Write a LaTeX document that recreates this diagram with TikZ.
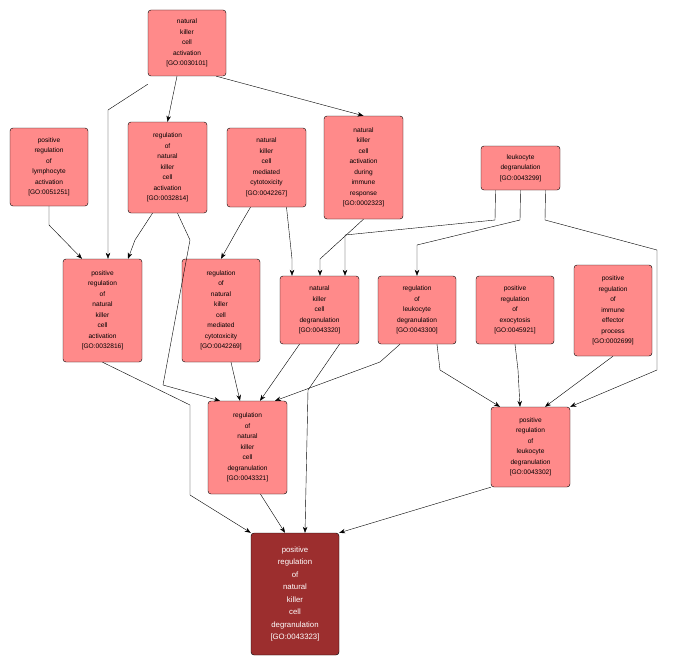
\documentclass[tikz,border=0pt]{standalone}
\usepackage{fontspec}
\setmainfont{Liberation Sans}
\usetikzlibrary{arrows.meta}
\begin{document}
\begin{tikzpicture}[x=1pt,y=-1pt,
 go/.style={draw=black,fill={rgb,255:red,255;green,138;blue,138},rounded corners=3pt,align=center,font=\fontsize{6.6}{10.5}\selectfont,inner sep=0pt},
 tg/.style={go,fill={rgb,255:red,156;green,46;blue,46},text=white,font=\fontsize{7.8}{12.5}\selectfont},
 e/.style={-{Stealth[length=6pt,width=4.5pt]},thin}]
\useasboundingbox (0,0) rectangle (684,666);
\newcommand{\gn}[7]{\node[#7,minimum width=#3-#1,minimum height=#4-#2] (#5) at ({(#1+#3)/2},{(#2+#4)/2}) {#6};}
\gn{148}{10}{226}{76}{a}{natural\\killer\\cell\\activation\\{[GO:0030101]}}{go}
\gn{10}{128}{88}{206}{b}{positive\\regulation\\of\\lymphocyte\\activation\\{[GO:0051251]}}{go}
\gn{128}{122}{207}{213}{c}{regulation\\of\\natural\\killer\\cell\\activation\\{[GO:0032814]}}{go}
\gn{227}{128}{306}{207}{d}{natural\\killer\\cell\\mediated\\cytotoxicity\\{[GO:0042267]}}{go}
\gn{324}{116}{403}{219}{f}{natural\\killer\\cell\\activation\\during\\immune\\response\\{[GO:0002323]}}{go}
\gn{481}{146}{560}{190}{g}{leukocyte\\degranulation\\{[GO:0043299]}}{go}
\gn{63}{259}{142}{362}{h}{positive\\regulation\\of\\natural\\killer\\cell\\activation\\{[GO:0032816]}}{go}
\gn{182}{259}{260}{362}{i}{regulation\\of\\natural\\killer\\cell\\mediated\\cytotoxicity\\{[GO:0042269]}}{go}
\gn{280}{276}{359}{344}{j}{natural\\killer\\cell\\degranulation\\{[GO:0043320]}}{go}
\gn{378}{276}{456}{344}{k}{regulation\\of\\leukocyte\\degranulation\\{[GO:0043300]}}{go}
\gn{476}{276}{554}{344}{l}{positive\\regulation\\of\\exocytosis\\{[GO:0045921]}}{go}
\gn{574}{265}{652}{356}{m}{positive\\regulation\\of\\immune\\effector\\process\\{[GO:0002699]}}{go}
\gn{208}{401}{287}{494}{n}{regulation\\of\\natural\\killer\\cell\\degranulation\\{[GO:0043321]}}{go}
\gn{491}{407}{570}{487}{o}{positive\\regulation\\of\\leukocyte\\degranulation\\{[GO:0043302]}}{go}
\gn{251}{533}{339}{655}{p}{positive\\regulation\\of\\natural\\killer\\cell\\degranulation\\{[GO:0043323]}}{tg}
\draw[e] (a.south west)++(0,8) -- (108,110) -- (h.north-|108,0);
\draw[e] (a.south) ++(-10,0) -- (c.north);
\draw[e] (a.south east) ++(-10,0) -- (f.north);
\draw[e] (b.south) -- (49,225) -- (h.north-|82,0);
\draw[e] (c.south) ++(-15,0) -- (135,240) -- (h.north-|128,0);
\draw[e] (c.south) ++(10,0) -- (190,240) -- (163,385) -- (n.north-|220,0);
\draw[e] (d.south) ++(-16,0) -- (240,225) -- (i.north);
\draw[e] (d.south) ++(20,0) -- (292,259) -- (j.north-|292,0);
\draw[e] (f.south) -- (320,259) -- (j.north-|320,0);
\draw[e] (g.south) ++(-25,0) -- (495,220) -- (345,235) -- (j.north-|345,0);
\draw[e] (g.south) -- (520,220) -- (417,245) -- (k.north);
\draw[e] (g.south) ++(25,0) -- (545,220) -- (657,250) -- (657,370) -- (o.north east);
\draw[e] (h.south) -- (190,405) -- (190,495) -- (p.north west);
\draw[e] (i.south) ++(10,0) -- (n.north-|240,0);
\draw[e] (j.south) ++(-20,0) -- (n.north-|260,0);
\draw[e] (k.south) ++(-17,0) -- (380,362) -- (n.north-|275,0);
\draw[e] (j.south) ++(20,0) -- (308,390) -- (p.north-|305,0);
\draw[e] (n.south) ++(13,0) -- (p.north-|285,0);
\draw[e] (k.south) ++(20,0) -- (440,370) -- (o.north-|500,0);
\draw[e] (l.south) -- (518,370) -- (o.north-|520,0);
\draw[e] (m.south) -- (o.north-|545,0);
\draw[e] (o.south west) -- (p.north east);
\end{tikzpicture}
\end{document}
